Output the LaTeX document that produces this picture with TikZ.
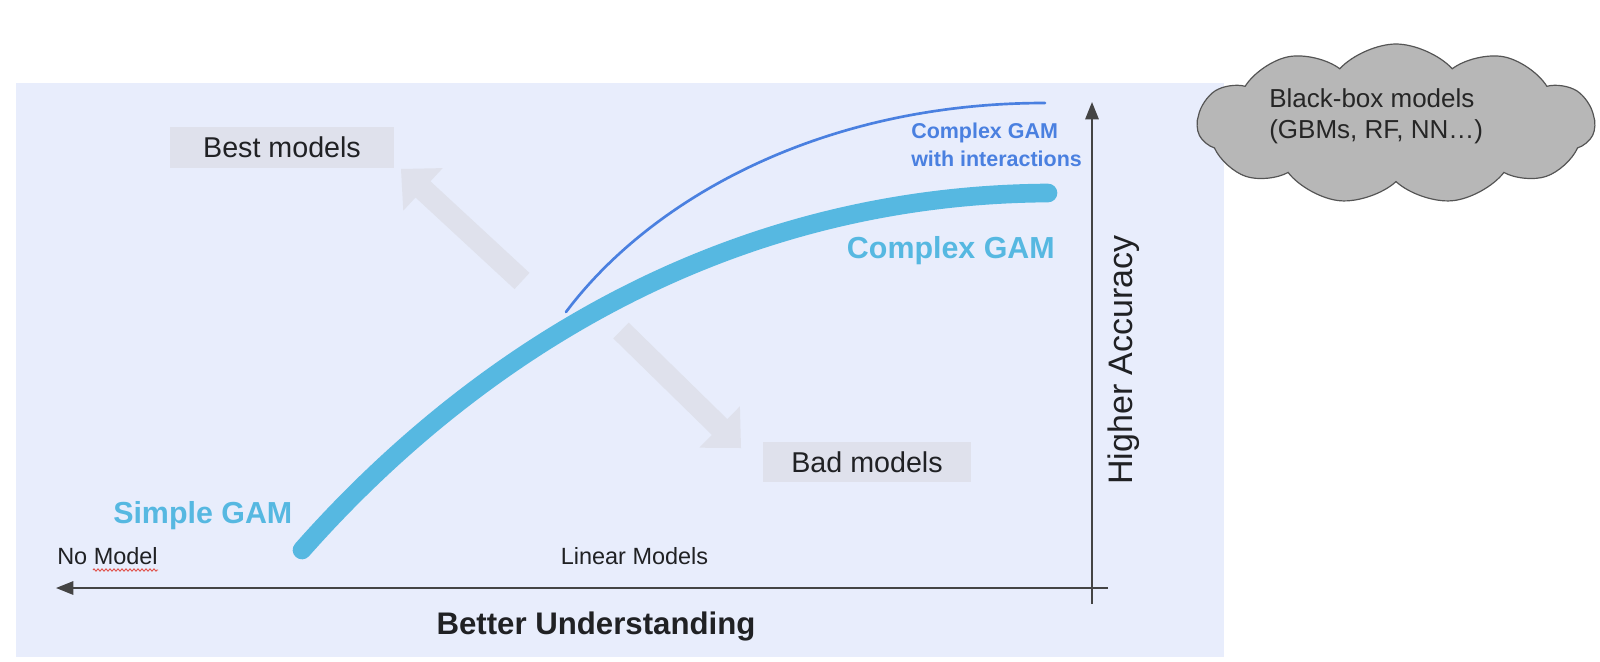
\documentclass[tikz,border=0pt]{standalone}
\usepackage{fontspec}
\setmainfont{Liberation Sans}
\usetikzlibrary{shapes.symbols,arrows.meta,decorations.pathmorphing}
\definecolor{bgblue}{HTML}{E8EDFC}
\definecolor{boxgray}{HTML}{DFE1EC}
\definecolor{gamblue}{HTML}{56B8E1}
\definecolor{interblue}{HTML}{4A80E0}
\definecolor{axisgray}{HTML}{444444}
\definecolor{cloudgray}{HTML}{B7B7B7}
\definecolor{cloudline}{HTML}{555555}
\definecolor{textdark}{HTML}{202124}
\definecolor{spellred}{HTML}{E0443A}
\tikzset{
  axis/.style={draw=axisgray, line width=1.5pt, -{Triangle[width=10pt,length=13pt]}},
  labelbox/.style={fill=boxgray, inner sep=0pt, text=textdark, font=\fontsize{21.5}{26}\selectfont},
  axislabel/.style={inner sep=0pt, text=textdark, font=\fontsize{17.6}{21}\selectfont},
  gamlabel/.style={inner sep=0pt, text=gamblue, font=\bfseries\fontsize{22.8}{27}\selectfont},
  interlabel/.style={inner sep=0pt, text=interblue, font=\bfseries\fontsize{16.1}{21}\selectfont},
  gamline/.style={draw=gamblue, line width=14pt, line cap=round},
  interline/.style={draw=interblue, line width=2pt, line cap=round},
  bigarrow/.style={fill=boxgray},
  blackbox/.style={cloud, cloud puffs=11, cloud puff arc=95, aspect=2.6, draw=cloudline,
    line width=0.9pt, fill=cloudgray, minimum width=298pt, minimum height=120pt, inner sep=0pt},
  cloudtext/.style={inner sep=0pt, text=black!85, font=\fontsize{19.5}{23}\selectfont}
}
\begin{document}
\begin{tikzpicture}[x=0.75pt,y=-0.75pt]
  \useasboundingbox (0,0) rectangle (1600,661);
  % Background panel
  \fill[bgblue] (16,83) rectangle (1224,657);

  % Wide pale arrows
  \fill[bigarrow] (529.5,272.9) -- (430.5,181.3) -- (442.7,168.1) -- (401,169)
    -- (403.3,210.7) -- (415.5,197.5) -- (514.5,289.1) -- cycle;
  \fill[bigarrow] (628.7,322.6) -- (727.3,419.1) -- (739.9,406.3) -- (741,448)
    -- (699.3,447.7) -- (711.9,434.9) -- (613.3,338.4) -- cycle;

  % Label boxes
  \node[labelbox, minimum width=168pt, minimum height=30.75pt] (best) at (282,147.5) {Best models};
  \node[labelbox, minimum width=156pt, minimum height=30pt] (bad) at (867,462) {Bad models};

  % Curves
  \coordinate (interstart) at (566,312);
  \coordinate (interend) at (1045,103);
  \coordinate (gamstart) at (302,550);
  \coordinate (gamend) at (1048,193);
  \draw[interline] (interstart) .. controls (650,200) and (820,103) .. (interend);
  \draw[gamline] (gamstart) .. controls (470,360) and (720,195) .. (gamend);

  % Curve labels
  \node[gamlabel, anchor=base west] (simple) at (113,523) {Simple GAM};
  \node[gamlabel, anchor=base east] (complex) at (1055,258) {Complex GAM};
  \node[interlabel, anchor=base west] (inter1) at (911,138) {Complex GAM};
  \node[interlabel, anchor=base west] (inter2) at (911,166) {with interactions};

  % Axes
  \coordinate (xright) at (1108,588);
  \coordinate (xleft) at (56,588);
  \coordinate (ybottom) at (1092,604);
  \coordinate (ytop) at (1092,102);
  \draw[axis] (xright) -- (xleft);
  \draw[axis] (ybottom) -- (ytop);

  % Axis texts
  \node[axislabel, anchor=base west] (nomodel) at (57,564) {No Model};
  \coordinate (wavyl) at (93,570);
  \coordinate (wavyr) at (158,570);
  \draw[spellred, line width=0.6pt, decorate, decoration={zigzag, segment length=3pt, amplitude=0.9pt}] (wavyl) -- (wavyr);
  \node[axislabel, anchor=base] (linear) at (634.5,564) {Linear Models};
  \node[inner sep=0pt, text=textdark, font=\bfseries\fontsize{23.4}{28}\selectfont, anchor=base] (understand) at (596,634) {Better Understanding};
  \node[inner sep=0pt, text=textdark, font=\fontsize{25.5}{30}\selectfont, anchor=base, rotate=90] (accuracy) at (1132,360) {Higher Accuracy};

  % Black-box cloud
  \node[blackbox] (bbcloud) at (1396,124) {};
  \node[cloudtext, anchor=base west] (bbline1) at (1269,107) {Black-box models};
  \node[cloudtext, anchor=base west] (bbline2) at (1269,138) {(GBMs, RF, NN…)};
\end{tikzpicture}
\end{document}
